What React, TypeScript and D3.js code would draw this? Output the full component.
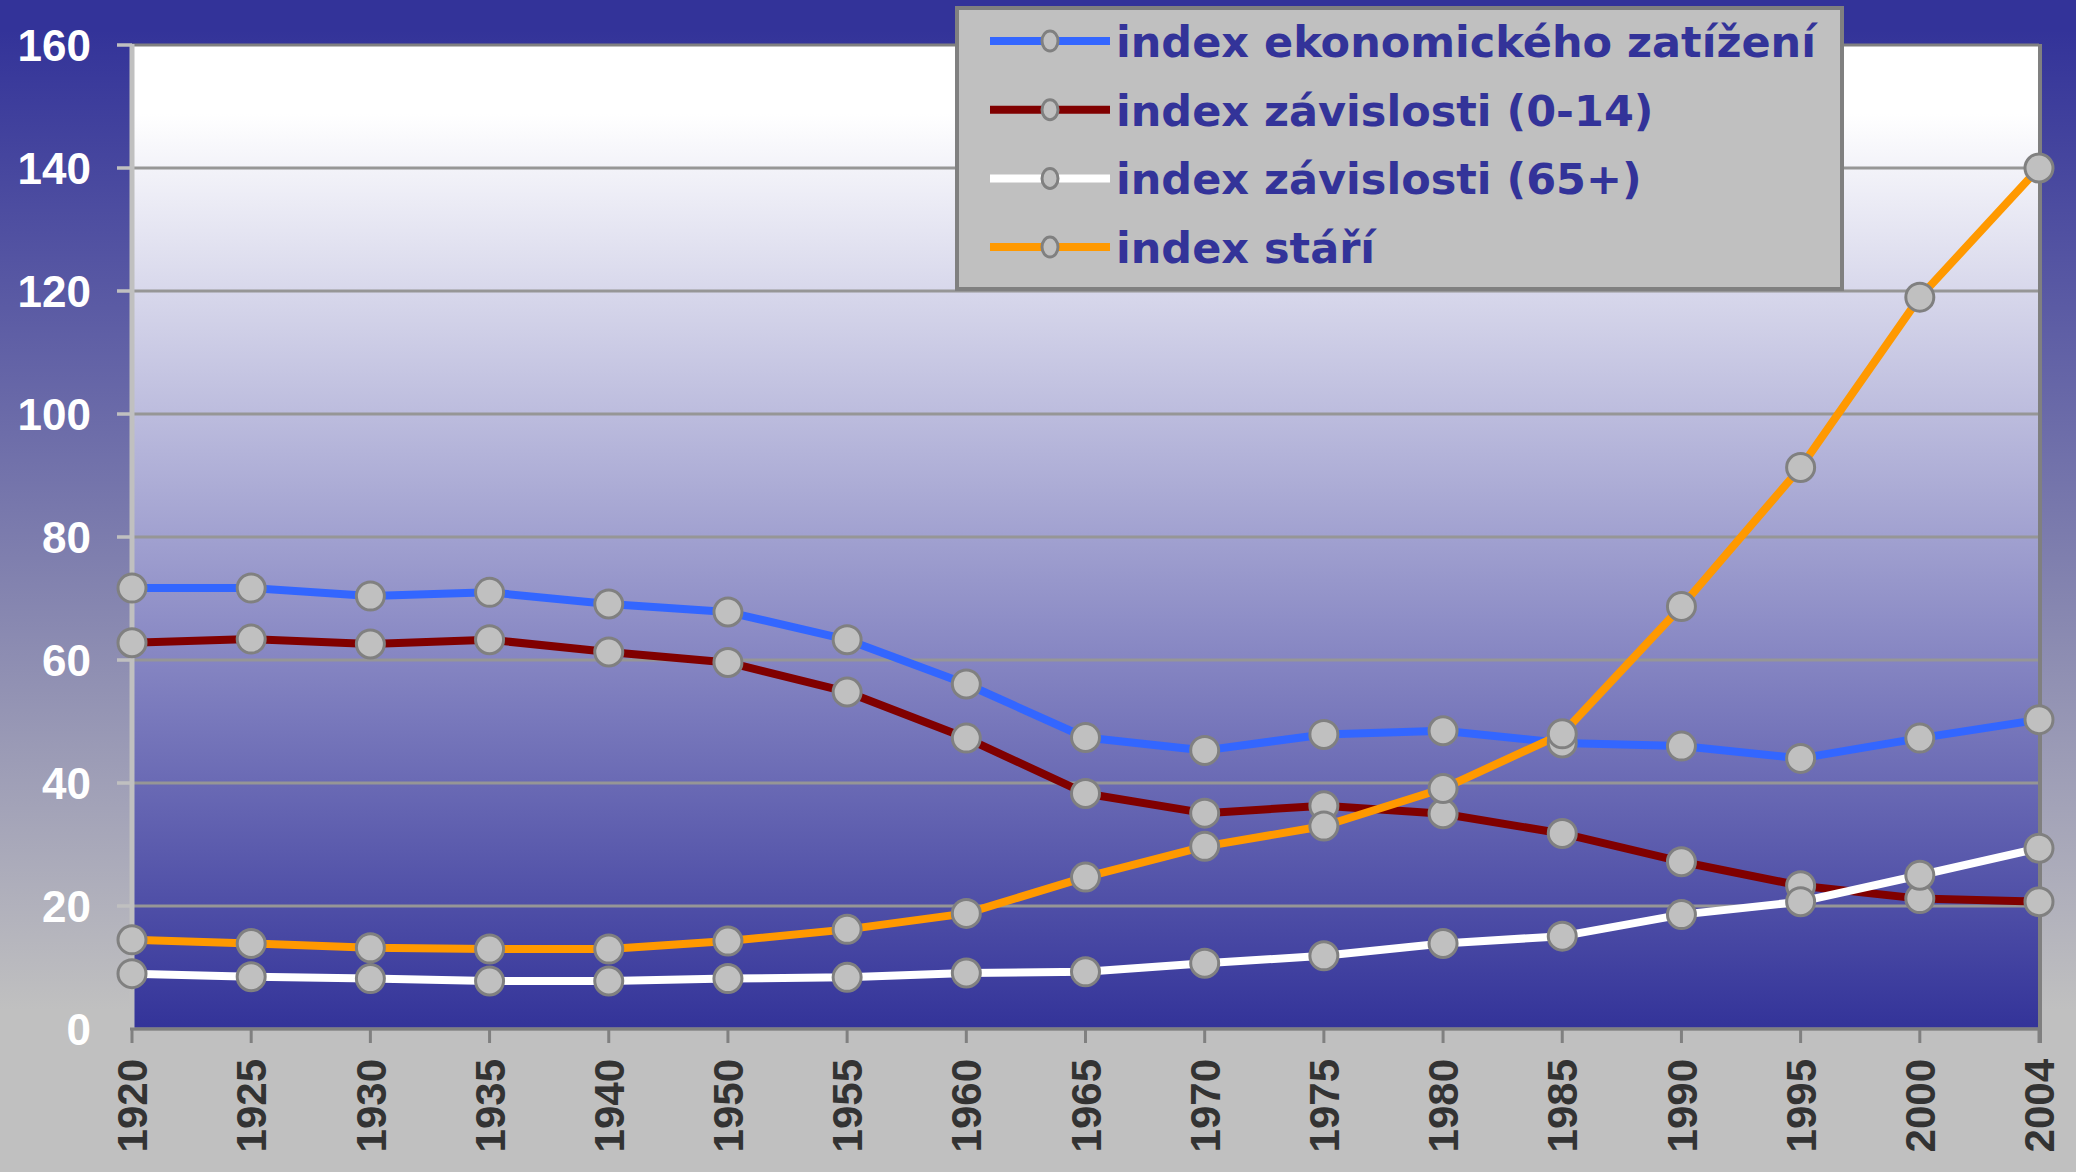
import React from "react";
import * as d3 from "d3";

const years = ["1920", "1925", "1930", "1935", "1940", "1950", "1955", "1960", "1965", "1970", "1975", "1980", "1985", "1990", "1995", "2000", "2004"];
const ekonomZatizeni = [71.7, 71.7, 70.4, 71.0, 69.1, 67.8, 63.3, 56.1, 47.4, 45.3, 47.9, 48.5, 46.5, 46.0, 44.0, 47.3, 50.3];
const zavislost014 = [62.8, 63.4, 62.6, 63.3, 61.3, 59.6, 54.8, 47.3, 38.3, 35.1, 36.3, 35.0, 31.8, 27.2, 23.3, 21.2, 20.7];
const zavislost65 = [9.0, 8.5, 8.2, 7.8, 7.8, 8.2, 8.4, 9.1, 9.3, 10.7, 11.9, 13.9, 15.1, 18.6, 20.7, 25.0, 29.4];
const indexStari = [14.5, 13.9, 13.2, 13.0, 13.0, 14.3, 16.2, 18.8, 24.7, 29.7, 33.0, 39.1, 48.0, 68.7, 91.3, 119.0, 140.0];
const yTicks = [0, 20, 40, 60, 80, 100, 120, 140, 160];

const series = [
  { name: "index ekonomického zatížení", color: "#3366ff", values: ekonomZatizeni },
  { name: "index závislosti (0-14)", color: "#800000", values: zavislost014 },
  { name: "index závislosti (65+)", color: "#ffffff", values: zavislost65 },
  { name: "index stáří", color: "#ff9900", values: indexStari },
];

const W = 2076;
const H = 1172;
const left = 132;
const right = 2039;
const top = 45;
const bottom = 1029;

export default function App() {
  const x = d3.scalePoint<string>().domain(years).range([left, right]);
  const y = d3.scaleLinear().domain([0, 160]).range([bottom, top]);
  const line = d3
    .line<number>()
    .x((_, i) => x(years[i]) as number)
    .y((d) => y(d));

  const font = "'Liberation Sans', Arial, sans-serif";

  return (
    <svg width={W} height={H} style={{ position: "absolute", left: 0, top: 0, display: "block" }}>
      <defs>
        <linearGradient id="outer" x1="0" y1="30" x2="0" y2="1010" gradientUnits="userSpaceOnUse">
          <stop offset="0" stopColor="#333399" />
          <stop offset="1" stopColor="#c0c0c0" />
        </linearGradient>
        <linearGradient id="inner" x1="0" y1={top} x2="0" y2={bottom} gradientUnits="userSpaceOnUse">
          <stop offset="0" stopColor="#ffffff" />
          <stop offset="0.07" stopColor="#ffffff" />
          <stop offset="1" stopColor="#333399" />
        </linearGradient>
      </defs>
      <rect x={0} y={0} width={W} height={H} fill="url(#outer)" />
      <rect x={left} y={top} width={right - left} height={bottom - top} fill="url(#inner)" />

      {/* grid */}
      {yTicks.map((t) => (
        <line key={"g" + t} x1={left} x2={right} y1={y(t)} y2={y(t)} stroke={t === 160 ? "#808080" : "#969696"} strokeWidth={3} />
      ))}
      {/* y axis */}
      <line x1={left} x2={left} y1={top - 1} y2={bottom} stroke="#c0c0c0" strokeWidth={5} />
      {yTicks.map((t) => (
        <line key={"yt" + t} x1={117} x2={left} y1={y(t)} y2={y(t)} stroke="#c0c0c0" strokeWidth={3.5} />
      ))}
      {yTicks.map((t) => (
        <text key={"yl" + t} x={91} y={y(t)} dy="0.36em" textAnchor="end" fill="#ffffff" fontFamily={font} fontWeight="bold" fontSize={44}>
          {t}
        </text>
      ))}
      {/* right border, x axis */}
      <line x1={right + 1} x2={right + 1} y1={top - 1} y2={bottom + 14} stroke="#808080" strokeWidth={4} />
      <line x1={left - 2} x2={right + 3} y1={bottom} y2={bottom} stroke="#808080" strokeWidth={3} />
      {years.map((yr) => (
        <line key={"xt" + yr} x1={x(yr)} x2={x(yr)} y1={bottom} y2={bottom + 14} stroke="#808080" strokeWidth={3} />
      ))}
      {years.map((yr) => (
        <text
          key={"xl" + yr}
          transform={`translate(${x(yr)},${1059}) rotate(-90)`}
          dy="0.36em"
          textAnchor="end"
          fill="#333333"
          fontFamily={font}
          fontWeight="bold"
          fontSize={42}
        >
          {yr}
        </text>
      ))}

      {/* lines */}
      {series.map((s) => (
        <path key={"l" + s.name} d={line(s.values) || ""} fill="none" stroke={s.color} strokeWidth={8} strokeLinejoin="round" />
      ))}
      {series.map((s) =>
        s.values.map((v, i) => (
          <circle key={s.name + i} cx={x(years[i])} cy={y(v)} r={14} fill="#c0c0c0" stroke="#808080" strokeWidth={3} />
        ))
      )}

      {/* legend */}
      <rect x={957} y={8} width={885} height={281} fill="#c0c0c0" stroke="#808080" strokeWidth={4} />
      {series.map((s, i) => {
        const cy = 41 + i * 68.7;
        return (
          <g key={"lg" + s.name}>
            <line x1={990} x2={1110} y1={cy} y2={cy} stroke={s.color} strokeWidth={8} />
            <ellipse cx={1050} cy={cy} rx={8} ry={10} fill="#c0c0c0" stroke="#808080" strokeWidth={3} />
            <text x={1116} y={cy + 16} fill="#333399" fontFamily="'DejaVu Sans', Verdana, sans-serif" fontWeight="bold" fontSize={43}>
              {s.name}
            </text>
          </g>
        );
      })}
    </svg>
  );
}
